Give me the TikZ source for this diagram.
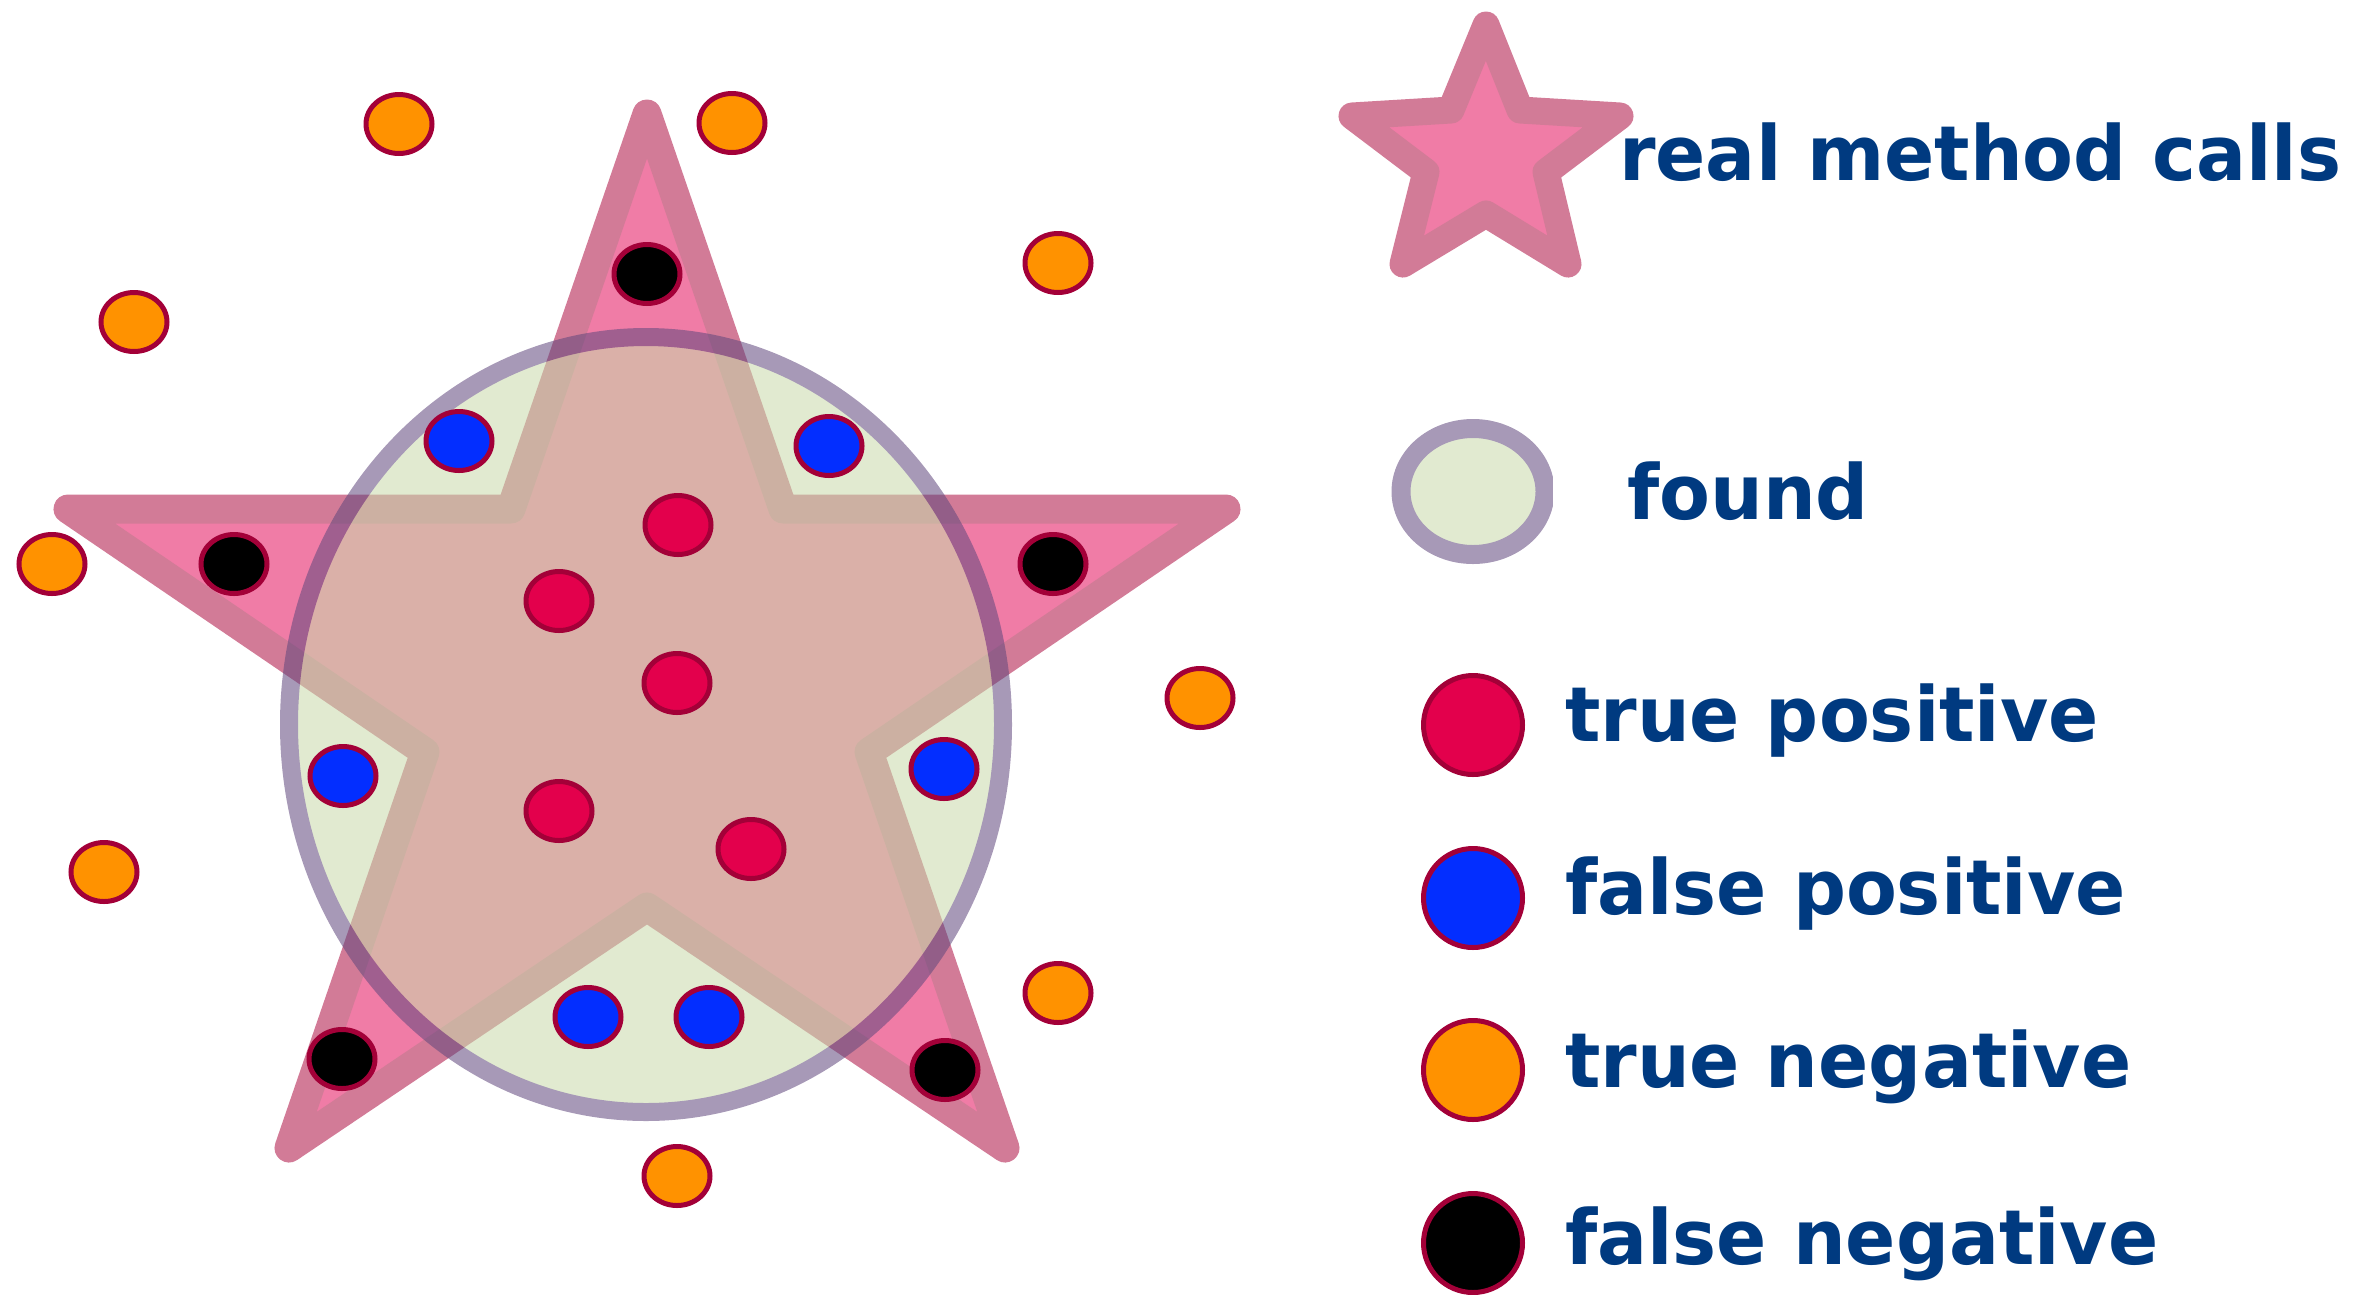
\documentclass[tikz,border=0pt]{standalone}
\usepackage{fontspec}
\usetikzlibrary{shapes.geometric}
\newfontfamily\lab{DejaVu Sans}[FakeStretch=0.975]
\definecolor{starfill}{RGB}{240,124,166}
\definecolor{starline}{RGB}{210,123,151}
\definecolor{foundfill}{RGB}{201,218,171}
\definecolor{foundline}{RGB}{98,73,126}
\definecolor{dotline}{RGB}{163,0,56}
\definecolor{tpc}{RGB}{227,0,76}
\definecolor{fpc}{RGB}{3,46,255}
\definecolor{tnc}{RGB}{255,146,0}
\definecolor{fnc}{RGB}{0,0,0}
\definecolor{txt}{RGB}{0,58,128}
\begin{document}
\begin{tikzpicture}[x=1pt,y=-1pt,
  starshape/.style={fill=starfill, draw=starline, line width=29pt, line join=round},
  foundshape/.style={fill=foundfill, draw=foundline, line width=18pt},
  dot/.style={ellipse, draw=dotline, line width=5pt, inner sep=0pt, minimum width=66pt, minimum height=59pt},
  ldot/.style={circle, draw=dotline, line width=5pt, inner sep=0pt, minimum size=99pt},
  tp/.style={dot, fill=tpc}, fp/.style={dot, fill=fpc},
  tn/.style={dot, fill=tnc}, fn/.style={dot, fill=fnc},
  lbl/.style={anchor=base west, inner sep=0pt, text=txt, font=\lab\bfseries\fontsize{76}{80}\selectfont}]
\useasboundingbox (0,0) rectangle (2369,1294);
% main star
\draw[starshape] (647,114) -- (783,509) -- (1226,509) -- (869,752) -- (1005,1148)
  -- (647,907) -- (289,1148) -- (425,752) -- (68,509) -- (511,509) -- cycle;
% found ellipse
\begin{scope}[transparency group, opacity=0.56]
  \draw[foundshape] (646,724.5) ellipse [x radius=357pt, y radius=387.5pt];
\end{scope}
% true negatives
\node[tn] (tn1) at (399,124) {};
\node[tn] (tn2) at (732,123) {};
\node[tn] (tn3) at (1058,263) {};
\node[tn] (tn4) at (134,322) {};
\node[tn] (tn5) at (52,564) {};
\node[tn] (tn6) at (1200,698) {};
\node[tn] (tn7) at (104,872) {};
\node[tn] (tn8) at (1058,993) {};
\node[tn] (tn9) at (677,1176) {};
% false negatives
\node[fn] (fn1) at (647,274) {};
\node[fn] (fn2) at (234,564) {};
\node[fn] (fn3) at (1053,564) {};
\node[fn] (fn4) at (342,1059) {};
\node[fn] (fn5) at (945,1070) {};
% false positives
\node[fp] (fp1) at (459,441) {};
\node[fp] (fp2) at (829,446) {};
\node[fp] (fp3) at (343,776) {};
\node[fp] (fp4) at (944,769) {};
\node[fp] (fp5) at (588,1017) {};
\node[fp] (fp6) at (709,1017) {};
% true positives
\node[tp] (tp1) at (678,525) {};
\node[tp] (tp2) at (559,601) {};
\node[tp] (tp3) at (677,683) {};
\node[tp] (tp4) at (559,811) {};
\node[tp] (tp5) at (751,849) {};
% legend star
\draw[starshape, line width=27pt] (1486,25) -- (1520,110) -- (1620,116) -- (1546,172) -- (1568,264)
  -- (1486,214) -- (1403,264) -- (1426,172) -- (1352,116) -- (1451,110) -- cycle;
\node[lbl] (lreal) at (1619,180) {real method calls};
% legend ellipse
\begin{scope}
  \clip (1380,400) rectangle (1552,600);
  \begin{scope}[transparency group, opacity=0.56]
    \draw[foundshape, line width=19pt] (1473,491.5) ellipse [x radius=72pt, y radius=63pt];
  \end{scope}
\end{scope}
\node[lbl] (lfound) at (1627,519) {found};
% legend dots
\node[ldot, fill=tpc] (ltp) at (1473,725) {};
\node[ldot, fill=fpc] (lfp) at (1473,898) {};
\node[ldot, fill=tnc] (ltn) at (1473,1070) {};
\node[ldot, fill=fnc] (lfn) at (1473,1243) {};
\node[lbl] (ttp) at (1565,741) {true positive};
\node[lbl] (tfp) at (1565,914) {false positive};
\node[lbl] (ttn) at (1565,1087) {true negative};
\node[lbl] (tfn) at (1565,1264) {false negative};
\end{tikzpicture}
\end{document}
